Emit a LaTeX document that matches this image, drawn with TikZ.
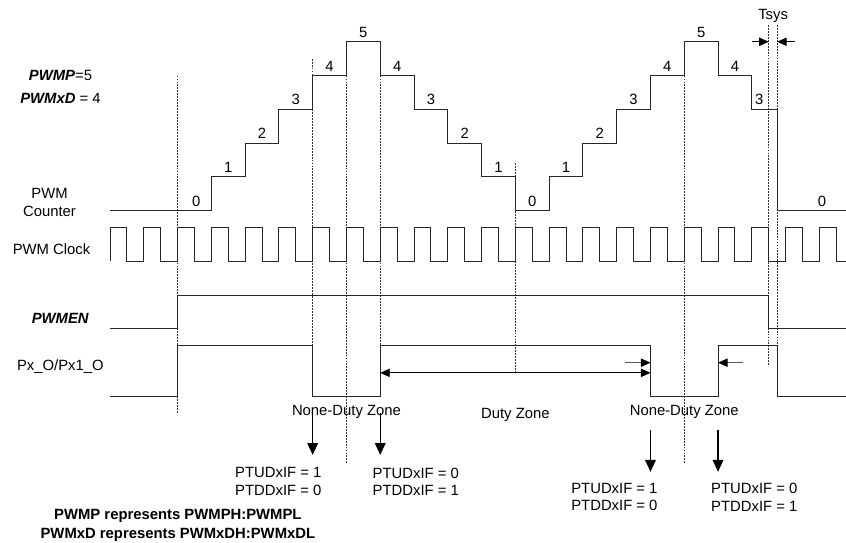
\documentclass[tikz,border=0pt]{standalone}
\usepackage{fontspec}
\setmainfont{Liberation Sans}
\usetikzlibrary{calc,positioning,arrows.meta}

\tikzset{
  signal/.style={line width=0.8pt,draw=black!85},
  guide/.style={line width=0.5pt,draw=black!80,dash pattern=on 1.6pt off 0.9pt},
  txt/.style={inner sep=0pt,font=\fontsize{12.5}{14.7}\selectfont},
  level/.style={txt,anchor=south,yshift=3.5pt},
  flags/.style={txt,align=left,anchor=north west},
  hint/.style={line width=0.8pt,-{Triangle[length=8pt,width=7pt]}},
  nudge/.style={line width=0.7pt,draw=black!65,-{Triangle[length=8pt,width=7pt,color=black]}},
  span/.style={line width=0.8pt,{Triangle[length=8pt,width=7pt]}-{Triangle[length=8pt,width=7pt]}},
  drop/.style={line width=1pt,-{Triangle[length=10pt,width=9pt]}}
}

\begin{document}
\begin{tikzpicture}
  \useasboundingbox (-3.256,-9.837) rectangle (21.788,6.237);

  % signal names
  \node [txt] at(-1.465,3.99) (pwmp) {\textbf{\textit{PWMP}}=5};
  \node [txt] at(-1.465,3.31) (pwmxd) {\textbf{\textit{PWMxD}} = 4};
  \node [txt,align=center] at(-1.79,0.25) (counter_name) {PWM\\Counter};
  \node [txt] at(-1.73,-1.14) (clock_name) {PWM Clock};
  \node [txt] at(-1.47,-3.2) (en_name) {\textbf{\textit{PWMEN}}};
  \node [txt] at(-1.47,-4.62) (out_name) {Px\_O/Px1\_O};

  \foreach \x/\a/\b in {2/4/-6,6/4.5/-4,7/4/-7.5,8/4/-4,12/1.4/-4.8,17/4/-7.5,19.5/5.5/-4.6,19.75/5.5/-4.6}
    \draw[guide] (\x,\a) -- (\x,\b);

  % counter
  \draw[signal] (0,0) -| (3,1) -| (4,2) -| (5,3) -| (6,4) -| (7,5) -| (8,4) -| (9,3) -| (10,2) -| (11,1) -| (12,0)
    -| (13,1) -| (14,2) -| (15,3) -| (16,4) -| (17,5) -| (18,4) -| (19,3) -| (19.75,0) -- (21.788,0);
  \foreach \x/\n [count=\i] in {2.55/0,3.5/1,4.5/2,5.5/3,6.5/4,7.5/5,8.5/4,9.5/3,10.5/2,11.5/1,12.5/0,
      13.5/1,14.5/2,15.5/3,16.5/4,17.5/5,18.5/4,19.22/3,21.08/0}
    \node [level] at(\x,\n) (count_\i) {\n};

  % clock
  \draw[signal] (0,-1.5) \foreach \k in {0,...,20} { -- (\k,-0.5) -- (\k+0.5,-0.5) -- (\k+0.5,-1.5) -- (\k+1,-1.5) }
    -- (21,-0.5) -- (21.5,-0.5) -- (21.5,-1.5) -- (21.788,-1.5);

  % enable and output
  \draw[signal] (0,-3.5) -- (2,-3.5) |- (19.5,-2.5) |- (21.788,-3.5);
  \draw[signal] (0,-5.5) -- (2,-5.5) |- (6,-4) |- (8,-5.5) |- (16,-4) |- (18,-5.5) |- (19.75,-4) |- (21.788,-5.5);

  % Tsys
  \node [txt,anchor=base] at(19.63,5.666) (tsys) {Tsys};
  \coordinate (tsys_l) at (19,5);
  \coordinate (tsys_a) at (19.5,5);
  \coordinate (tsys_b) at (19.75,5);
  \coordinate (tsys_r) at (20.28,5);
  \draw[hint] (tsys_l) -- (tsys_a);
  \draw[hint] (tsys_r) -- (tsys_b);

  % zones
  \coordinate (duty_l) at (8,-4.8);
  \coordinate (duty_r) at (16,-4.8);
  \draw[span] (duty_l) -- (duty_r);
  \coordinate (gap_l) at (15.25,-4.5);
  \coordinate (gap_a) at (16,-4.5);
  \coordinate (gap_r) at (18.75,-4.5);
  \coordinate (gap_b) at (18,-4.5);
  \draw[nudge] (gap_l) -- (gap_a);
  \draw[nudge] (gap_r) -- (gap_b);

  \node [txt,anchor=base] at(7,-6.05) (nonduty_a) {None-Duty Zone};
  \node [txt,anchor=base] at(12,-6.15) (duty) {Duty Zone};
  \node [txt,anchor=base] at(17,-6.05) (nonduty_b) {None-Duty Zone};

  % interrupt flags
  \foreach \x/\a/\b [count=\i] in {6/-6/-7.23,8/-6/-7.23,16/-6.5/-7.73,18/-6.5/-7.73}
  {
    \coordinate (drop_top_\i) at (\x,\a);
    \coordinate (drop_end_\i) at (\x,\b);
    \draw[drop] (drop_top_\i) -- (drop_end_\i);
  }
  \node [flags] at(3.70,-7.60) (flag_a) {PTUDxIF = 1\\PTDDxIF = 0};
  \node [flags] at(7.77,-7.60) (flag_b) {PTUDxIF = 0\\PTDDxIF = 1};
  \node [flags] at(13.65,-8.06) (flag_c) {PTUDxIF = 1\\PTDDxIF = 0};
  \node [flags] at(17.79,-8.06) (flag_d) {PTUDxIF = 0\\PTDDxIF = 1};

  \node [txt,align=center,anchor=north,font=\bfseries\fontsize{12.5}{15.4}\selectfont] at(2.01,-8.845) (notes)
    {PWMP represents PWMPH:PWMPL\\PWMxD represents PWMxDH:PWMxDL};
\end{tikzpicture}
\end{document}
